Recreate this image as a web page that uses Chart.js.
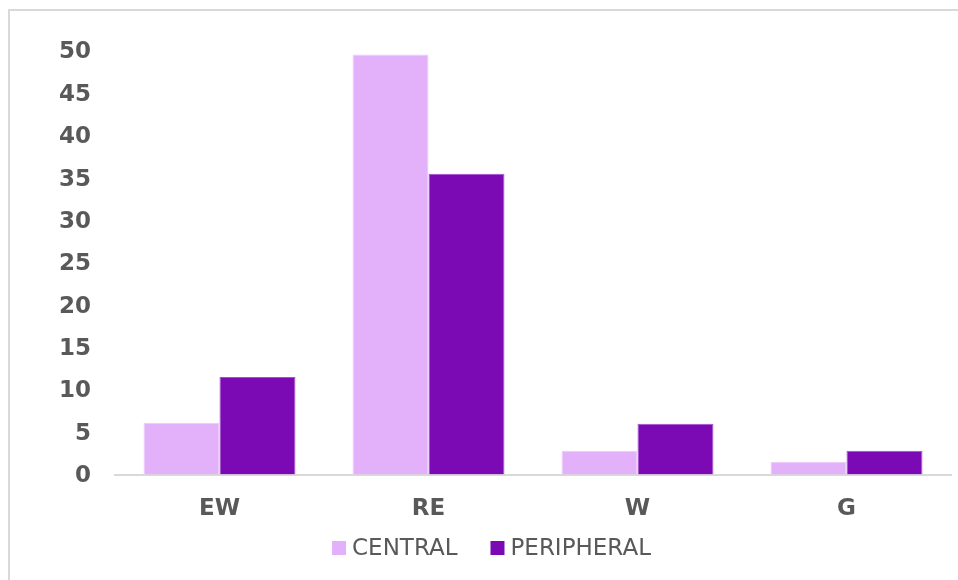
<!DOCTYPE html>
<html>
<head>
<meta charset="utf-8">
<script src="https://cdn.jsdelivr.net/npm/chart.js@4/dist/chart.umd.min.js"></script>
<style>
  html, body { margin: 0; padding: 0; background: #ffffff; }
  #wrap { position: relative; width: 958px; height: 580px; }
</style>
</head>
<body>
<div id="wrap"><canvas id="chart" width="958" height="580"></canvas></div>
<script>
// Categories and series
const categories = ['EW', 'RE', 'W', 'G'];
const centralValues = [6.1, 49.6, 2.8, 1.5];
const peripheralValues = [11.5, 35.5, 6.0, 2.8];
const yTicks = [0, 5, 10, 15, 20, 25, 30, 35, 40, 45, 50];

const TEXT = '#595959';
const LINE = '#d9d9d9';

// Light frame along the top and left edges of the canvas
const framePlugin = {
  id: 'frame',
  beforeDraw(chart) {
    const ctx = chart.ctx;
    ctx.save();
    ctx.strokeStyle = LINE;
    ctx.lineWidth = 2;
    ctx.beginPath();
    ctx.moveTo(9, chart.height);
    ctx.lineTo(9, 10);
    ctx.lineTo(chart.width, 10);
    ctx.stroke();
    ctx.restore();
  }
};

// Compact legend row under the axis: square swatch, short gap, dataset label
const legendRowPlugin = {
  id: 'legendRow',
  afterDraw(chart) {
    const ctx = chart.ctx;
    const box = 14, gap = 6, itemGap = 33, centerX = 491.5, centerY = 548;
    ctx.save();
    ctx.font = '23px "DejaVu Sans"';
    ctx.textBaseline = 'middle';
    ctx.textAlign = 'left';
    const items = chart.data.datasets.map(ds => ({
      text: ds.label,
      color: ds.backgroundColor,
      w: ctx.measureText(ds.label).width
    }));
    const total = items.reduce((s, it) => s + box + gap + it.w, 0) + itemGap * (items.length - 1);
    let x = centerX - total / 2;
    items.forEach(it => {
      ctx.fillStyle = it.color;
      ctx.fillRect(x, centerY - box / 2, box, box);
      x += box + gap;
      ctx.fillStyle = TEXT;
      ctx.fillText(it.text, x, centerY + 1);
      x += it.w + itemGap;
    });
    ctx.restore();
  }
};

new Chart(document.getElementById('chart'), {
  type: 'bar',
  data: {
    labels: categories,
    datasets: [
      {
        label: 'CENTRAL',
        data: centralValues,
        backgroundColor: '#e2b1fa',
        borderColor: '#eccbfc',
        borderWidth: 1
      },
      {
        label: 'PERIPHERAL',
        data: peripheralValues,
        backgroundColor: '#7b0ab4',
        borderColor: '#a44fd6',
        borderWidth: 1
      }
    ]
  },
  options: {
    responsive: false,
    animation: false,
    layout: { padding: { top: 51, right: 7, left: 32, bottom: 40 } },
    datasets: {
      bar: { categoryPercentage: 0.727, barPercentage: 1.0 }
    },
    scales: {
      x: {
        grid: { display: false, drawTicks: false },
        border: { display: true, color: LINE, width: 2 },
        afterFit(scale) { scale.height = 65.5; },
        ticks: {
          color: TEXT,
          padding: 21,
          font: { family: 'DejaVu Sans', size: 23, weight: 'bold' }
        }
      },
      y: {
        min: 0,
        max: 50,
        afterBuildTicks(scale) {
          scale.ticks = yTicks.map(v => ({ value: v }));
        },
        afterFit(scale) { scale.width = 83; },
        grid: { display: false, drawTicks: false },
        border: { display: false },
        ticks: {
          color: TEXT,
          padding: 24,
          labelOffset: 1.5,
          font: { family: 'DejaVu Sans', size: 23, weight: 'bold' }
        }
      }
    },
    plugins: {
      legend: { display: false },
      tooltip: { enabled: false }
    }
  },
  plugins: [framePlugin, legendRowPlugin]
});
</script>
</body>
</html>
